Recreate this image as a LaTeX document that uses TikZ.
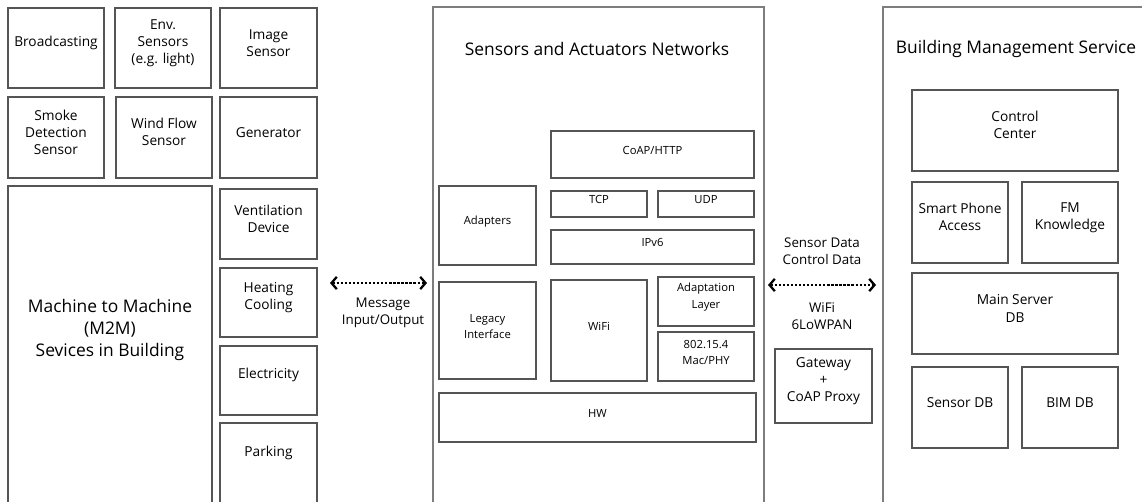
\documentclass[tikz,border=0pt]{standalone}
\usepackage{fontspec}
\setmainfont{Open Sans}
\usetikzlibrary{fit}
\usetikzlibrary{calc}
\usetikzlibrary{arrows.meta}
\usetikzlibrary{positioning}
\definecolor{boxline}{RGB}{85, 85, 85}
\definecolor{frameline}{RGB}{125, 125, 125}

\tikzset{
  box/.style={draw=boxline, line width=0.8pt, inner sep=0pt, align=center,
              font=\fontsize{7.8}{9.7}\selectfont},
  layer/.style={box, font=\fontsize{6.4}{9.3}\selectfont},
  frame/.style={draw=frameline, line width=1pt},
  title/.style={align=center, font=\fontsize{9.9}{12.4}\selectfont},
  note/.style={align=center, font=\fontsize{7.6}{9.5}\selectfont},
  link/.style={black, line width=1.3pt, densely dotted,
               {Straight Barb[length=3pt,width=7pt]}-{Straight Barb[length=3pt,width=7pt]}},
}

\begin{document}
\begin{tikzpicture}[x=0.02cm, y=-0.02cm]
  \useasboundingbox (0,0) rectangle (1142,501);
  \clip (0,0) rectangle (1142,501);

  % M2M devices
  \node[box, fit={(8,8) (104,88)}]     (broad) {Broadcasting};
  \node[box, fit={(115,8) (211,88)}]   (env)   {Env.\\Sensors\\(e.g. light)};
  \node[box, fit={(220,8) (317,88)}]   (image) {Image\\Sensor};
  \node[box, fit={(8,97) (104,178)}]   (smoke) {Smoke\\Detection\\Sensor};
  \node[box, fit={(116,97) (212,178)}] (wind)  {Wind Flow\\Sensor};
  \node[box, fit={(220,97) (317,178)}] (gen)   {Generator};
  \draw[draw=boxline, line width=0.8pt] (8,186) rectangle (212,520);
  \node[title] (m2m) at (110,330) {Machine to Machine\\(M2M)\\Sevices in Building};
  \node[box, fit={(220,189) (317,259)}] (vent)  {Ventilation\\Device};
  \node[box, fit={(220,268) (317,337)}] (heat)  {Heating\\Cooling};
  \node[box, fit={(220,346) (317,415)}] (elec)  {Electricity};
  \draw[draw=boxline, line width=0.8pt] (220,423) rectangle (317,520);
  \node[note, font=\fontsize{7.8}{9.7}\selectfont] (park) at (268.5,453) {Parking};

  % sensor and actuator network stack
  \draw[frame] (433,7) rectangle (764,520);
  \node[title] (san) at (597,49) {Sensors and Actuators Networks};
  \node[layer, fit={(551,131) (754,178)}] (coap)  {CoAP/HTTP};
  \node[layer, fit={(439,186) (536,265)}] (adapt) {Adapters};
  \node[layer, fit={(551,191) (647,217)}] (tcp)   {TCP};
  \node[layer, fit={(658,191) (754,217)}] (udp)   {UDP};
  \node[layer, fit={(551,230) (754,264)}] (ipv6)  {IPv6};
  \node[layer, fit={(439,282) (536,379)}] (legacy) {Legacy\\Interface};
  \node[layer, fit={(551,280) (647,381)}] (wifi)  {WiFi};
  \node[layer, fit={(658,277) (754,326)}] (alayer) {Adaptation\\Layer};
  \node[layer, fit={(658,332) (754,381)}] (mac)   {802.15.4\\Mac/PHY};
  \node[layer, fit={(439,393) (756,442)}] (hw)    {HW};

  % building management side
  \draw[frame] (883,7) rectangle (1160,520);
  \node[title] (bms) at (1016,49) {Building Management Service};
  \node[box, fit={(912,90) (1118,171)}]   (ctrl)   {Control\\Center};
  \node[box, fit={(912,182) (1008,263)}]  (phone)  {Smart Phone\\Access};
  \node[box, fit={(1022,182) (1118,263)}] (fm)     {FM\\Knowledge};
  \node[box, fit={(912,273) (1118,354)}]  (server) {Main Server\\DB};
  \node[box, fit={(912,367) (1008,448)}]  (sdb)    {Sensor DB};
  \node[box, fit={(1022,367) (1118,448)}] (bim)    {BIM DB};

  % links between the three parts
  \coordinate (msgL) at (330,283);
  \coordinate (msgR) at (427,283);
  \draw[link] (msgL) -- (msgR);
  \node[note] (msg) at (383,313) {Message\\Input/Output};

  \coordinate (dataL) at (768,285);
  \coordinate (dataR) at (876,285);
  \draw[link] (dataL) -- (dataR);
  \node[note] (data) at (822,251) {Sensor Data\\Control Data};
  \node[note] (radio) at (822,316) {WiFi\\6LoWPAN};
  \node[box, fit={(775,349) (872,423)}] (gw) {Gateway\\+\\CoAP Proxy};
\end{tikzpicture}
\end{document}
